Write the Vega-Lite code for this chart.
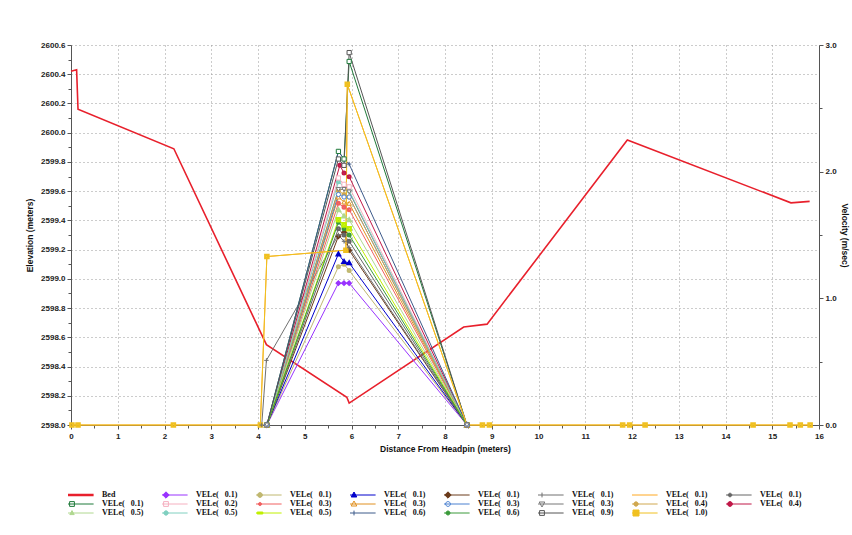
{
  "$schema": "https://vega.github.io/schema/vega-lite/v6.json",
  "width": 748,
  "height": 380,
  "autosize": {"type": "none"},
  "padding": {"left": 71, "top": 45, "right": 33, "bottom": 110},
  "background": "white",
  "config": {
    "view": {"stroke": null},
    "axis": {
      "labelFont": "Liberation Sans", "labelFontWeight": "bold", "labelFontSize": 8, "labelColor": "#222",
      "titleFont": "Liberation Sans", "titleFontWeight": "bold", "titleFontSize": 8.5, "titleColor": "#111",
      "domainColor": "#555", "tickColor": "#555", "gridColor": "#999999", "gridDash": [1, 3], "gridWidth": 1
    }
  },
  "params": [
    {"name": "lbl", "expr": "{'s01':'Bed','s02':'VELe(\u00a0\u00a0\u00a00.1)','s03':'VELe(\u00a0\u00a0\u00a00.1)','s04':'VELe(\u00a0\u00a0\u00a00.1)','s05':'VELe(\u00a0\u00a0\u00a00.1)','s06':'VELe(\u00a0\u00a0\u00a00.1)','s07':'VELe(\u00a0\u00a0\u00a00.1)','s08':'VELe(\u00a0\u00a0\u00a00.1)','s09':'VELe(\u00a0\u00a0\u00a00.1)','s10':'VELe(\u00a0\u00a0\u00a00.2)','s11':'VELe(\u00a0\u00a0\u00a00.3)','s12':'VELe(\u00a0\u00a0\u00a00.3)','s13':'VELe(\u00a0\u00a0\u00a00.3)','s14':'VELe(\u00a0\u00a0\u00a00.3)','s15':'VELe(\u00a0\u00a0\u00a00.4)','s16':'VELe(\u00a0\u00a0\u00a00.4)','s17':'VELe(\u00a0\u00a0\u00a00.5)','s18':'VELe(\u00a0\u00a0\u00a00.5)','s19':'VELe(\u00a0\u00a0\u00a00.5)','s20':'VELe(\u00a0\u00a0\u00a00.6)','s21':'VELe(\u00a0\u00a0\u00a00.6)','s22':'VELe(\u00a0\u00a0\u00a00.9)','s23':'VELe(\u00a0\u00a0\u00a01.0)'}"},
    {"name": "shp", "expr": "{'s01':'M-5.4,0H5.4','s02':'M-5.4,0H5.4M0,-0.8L0.8,0L0,0.8L-0.8,0Z','s03':'M-5.4,0H5.4M0.6,0A0.6,0.6,0,1,1,-0.6,0A0.6,0.6,0,1,1,0.6,0Z','s04':'M-5.4,0H5.4M0,-0.75L0.7,0.5H-0.7Z','s05':'M-5.4,0H5.4M0,-0.8L0.8,0L0,0.8L-0.8,0Z','s06':'M-5.4,0H5.4M0,-0.6V0.6','s07':'M-5.4,0H5.4','s08':'M-5.4,0H5.4M0.45,0A0.45,0.45,0,1,1,-0.45,0A0.45,0.45,0,1,1,0.45,0Z','s09':'M-5.4,0H5.4M-0.6,-0.6H0.6V0.6H-0.6Z','s10':'M-5.4,0H5.4M-0.6,-0.6H0.6V0.6H-0.6Z','s11':'M-5.4,0H5.4M0.4,0A0.4,0.4,0,1,1,-0.4,0A0.4,0.4,0,1,1,0.4,0Z','s12':'M-5.4,0H5.4M0,-0.75L0.7,0.5H-0.7Z','s13':'M-5.4,0H5.4M0.6,0A0.6,0.6,0,1,1,-0.6,0A0.6,0.6,0,1,1,0.6,0Z','s14':'M-5.4,0H5.4M0,0.75L0.7,-0.5H-0.7Z','s15':'M-5.4,0H5.4M0.55,0A0.55,0.55,0,1,1,-0.55,0A0.55,0.55,0,1,1,0.55,0Z','s16':'M-5.4,0H5.4M0.6,0A0.6,0.6,0,1,1,-0.6,0A0.6,0.6,0,1,1,0.6,0Z','s17':'M-5.4,0H5.4M0,-0.6L0.55,0.4H-0.55Z','s18':'M-5.4,0H5.4M0.55,0A0.55,0.55,0,1,1,-0.55,0A0.55,0.55,0,1,1,0.55,0Z','s19':'M-5.4,0H5.4M-0.7,-0.25H0.7V0.25H-0.7Z','s20':'M-5.4,0H5.4M0,-0.6V0.6','s21':'M-5.4,0H5.4M0.5,0A0.5,0.5,0,1,1,-0.5,0A0.5,0.5,0,1,1,0.5,0Z','s22':'M-5.4,0H5.4M-0.6,-0.6H0.6V0.6H-0.6Z','s23':'M-5.4,0H5.4M-0.75,-0.75H0.75V0.75H-0.75Z'}"},
    {"name": "fil", "expr": "{'s01':'white','s02':'#9933ff','s03':'#c0b870','s04':'#0000cc','s05':'#6b3a1a','s06':'white','s07':'white','s08':'#666666','s09':'white','s10':'white','s11':'#f06060','s12':'white','s13':'white','s14':'white','s15':'#d0a850','s16':'#c01848','s17':'#b0d890','s18':'#80d0c0','s19':'#c0f000','s20':'white','s21':'#3a9a3a','s22':'white','s23':'#f0c020'}"}
  ],
  "data": {
    "values": [
      {"s": "s01", "x": 0, "y": 2600.42}, {"s": "s01", "x": 0.12, "y": 2600.43}, {"s": "s01", "x": 0.15, "y": 2600.16},
      {"s": "s01", "x": 2.2, "y": 2599.89}, {"s": "s01", "x": 4.18, "y": 2598.55}, {"s": "s01", "x": 5.9, "y": 2598.19},
      {"s": "s01", "x": 5.95, "y": 2598.15}, {"s": "s01", "x": 8.4, "y": 2598.67}, {"s": "s01", "x": 8.9, "y": 2598.69},
      {"s": "s01", "x": 11.9, "y": 2599.95}, {"s": "s01", "x": 15.4, "y": 2599.52}, {"s": "s01", "x": 15.8, "y": 2599.53},

      {"s": "s02", "x": 4.19, "y": 0}, {"s": "s02", "x": 5.72, "y": 1.12}, {"s": "s02", "x": 5.84, "y": 1.12}, {"s": "s02", "x": 5.95, "y": 1.12}, {"s": "s02", "x": 8.47, "y": 0},
      {"s": "s03", "x": 4.19, "y": 0}, {"s": "s03", "x": 5.72, "y": 1.25}, {"s": "s03", "x": 5.84, "y": 1.27}, {"s": "s03", "x": 5.95, "y": 1.22}, {"s": "s03", "x": 8.47, "y": 0},
      {"s": "s04", "x": 4.19, "y": 0}, {"s": "s04", "x": 5.72, "y": 1.35}, {"s": "s04", "x": 5.84, "y": 1.29}, {"s": "s04", "x": 5.95, "y": 1.28}, {"s": "s04", "x": 8.47, "y": 0},
      {"s": "s05", "x": 4.19, "y": 0}, {"s": "s05", "x": 5.72, "y": 1.49}, {"s": "s05", "x": 5.84, "y": 1.52}, {"s": "s05", "x": 5.95, "y": 1.38}, {"s": "s05", "x": 8.47, "y": 0},
      {"s": "s06", "x": 4.08, "y": 0}, {"s": "s06", "x": 4.18, "y": 0.51}, {"s": "s06", "x": 5.72, "y": 1.5}, {"s": "s06", "x": 5.84, "y": 1.45}, {"s": "s06", "x": 5.95, "y": 1.4}, {"s": "s06", "x": 8.47, "y": 0},
      {"s": "s08", "x": 4.19, "y": 0}, {"s": "s08", "x": 5.72, "y": 1.55}, {"s": "s08", "x": 5.84, "y": 1.5}, {"s": "s08", "x": 5.95, "y": 1.45}, {"s": "s08", "x": 8.47, "y": 0},
      {"s": "s09", "x": 4.19, "y": 0}, {"s": "s09", "x": 5.72, "y": 2.16}, {"s": "s09", "x": 5.84, "y": 2.1}, {"s": "s09", "x": 5.95, "y": 2.87}, {"s": "s09", "x": 8.47, "y": 0},
      {"s": "s10", "x": 4.19, "y": 0}, {"s": "s10", "x": 5.72, "y": 1.95}, {"s": "s10", "x": 5.84, "y": 1.9}, {"s": "s10", "x": 5.95, "y": 1.88}, {"s": "s10", "x": 8.47, "y": 0},
      {"s": "s11", "x": 4.19, "y": 0}, {"s": "s11", "x": 5.72, "y": 1.75}, {"s": "s11", "x": 5.84, "y": 1.72}, {"s": "s11", "x": 5.95, "y": 1.7}, {"s": "s11", "x": 8.47, "y": 0},
      {"s": "s12", "x": 4.19, "y": 0}, {"s": "s12", "x": 5.72, "y": 1.8}, {"s": "s12", "x": 5.84, "y": 1.76}, {"s": "s12", "x": 5.95, "y": 1.75}, {"s": "s12", "x": 8.47, "y": 0},
      {"s": "s13", "x": 4.19, "y": 0}, {"s": "s13", "x": 5.72, "y": 1.82}, {"s": "s13", "x": 5.84, "y": 1.8}, {"s": "s13", "x": 5.95, "y": 1.8}, {"s": "s13", "x": 8.47, "y": 0},
      {"s": "s14", "x": 4.19, "y": 0}, {"s": "s14", "x": 5.72, "y": 1.86}, {"s": "s14", "x": 5.84, "y": 1.86}, {"s": "s14", "x": 5.95, "y": 1.84}, {"s": "s14", "x": 8.47, "y": 0},
      {"s": "s15", "x": 4.19, "y": 0}, {"s": "s15", "x": 5.72, "y": 1.85}, {"s": "s15", "x": 5.84, "y": 1.82}, {"s": "s15", "x": 5.95, "y": 1.8}, {"s": "s15", "x": 8.47, "y": 0},
      {"s": "s16", "x": 4.19, "y": 0}, {"s": "s16", "x": 5.75, "y": 2.05}, {"s": "s16", "x": 5.84, "y": 1.99}, {"s": "s16", "x": 5.95, "y": 1.96}, {"s": "s16", "x": 8.47, "y": 0},
      {"s": "s17", "x": 4.19, "y": 0}, {"s": "s17", "x": 5.72, "y": 1.7}, {"s": "s17", "x": 5.84, "y": 1.65}, {"s": "s17", "x": 5.95, "y": 1.62}, {"s": "s17", "x": 8.47, "y": 0},
      {"s": "s18", "x": 4.19, "y": 0}, {"s": "s18", "x": 5.72, "y": 1.92}, {"s": "s18", "x": 5.84, "y": 1.88}, {"s": "s18", "x": 5.95, "y": 1.85}, {"s": "s18", "x": 8.47, "y": 0},
      {"s": "s19", "x": 4.19, "y": 0}, {"s": "s19", "x": 5.72, "y": 1.62}, {"s": "s19", "x": 5.84, "y": 1.58}, {"s": "s19", "x": 5.95, "y": 1.55}, {"s": "s19", "x": 8.47, "y": 0},
      {"s": "s20", "x": 4.19, "y": 0}, {"s": "s20", "x": 5.72, "y": 2.16}, {"s": "s20", "x": 5.84, "y": 2.1}, {"s": "s20", "x": 5.95, "y": 2.06}, {"s": "s20", "x": 8.47, "y": 0},
      {"s": "s21", "x": 4.19, "y": 0}, {"s": "s21", "x": 5.72, "y": 1.6}, {"s": "s21", "x": 5.84, "y": 1.55}, {"s": "s21", "x": 5.95, "y": 1.5}, {"s": "s21", "x": 8.47, "y": 0},
      {"s": "s22", "x": 4.19, "y": 0}, {"s": "s22", "x": 5.72, "y": 2.1}, {"s": "s22", "x": 5.84, "y": 2.05}, {"s": "s22", "x": 5.95, "y": 2.94}, {"s": "s22", "x": 8.47, "y": 0},

      {"s": "s07", "x": 0.02, "y": 0}, {"s": "s07", "x": 0.15, "y": 0}, {"s": "s07", "x": 2.19, "y": 0}, {"s": "s07", "x": 4.05, "y": 0},
      {"s": "s07", "x": 4.19, "y": 1.33}, {"s": "s07", "x": 5.88, "y": 1.38}, {"s": "s07", "x": 5.91, "y": 2.69}, {"s": "s07", "x": 8.47, "y": 0},
      {"s": "s07", "x": 8.8, "y": 0}, {"s": "s07", "x": 8.95, "y": 0}, {"s": "s07", "x": 11.8, "y": 0}, {"s": "s07", "x": 11.95, "y": 0},
      {"s": "s07", "x": 12.28, "y": 0}, {"s": "s07", "x": 14.59, "y": 0}, {"s": "s07", "x": 15.38, "y": 0}, {"s": "s07", "x": 15.6, "y": 0}, {"s": "s07", "x": 15.81, "y": 0},

      {"s": "s23", "x": 0.02, "y": 0}, {"s": "s23", "x": 0.15, "y": 0}, {"s": "s23", "x": 2.19, "y": 0}, {"s": "s23", "x": 4.05, "y": 0},
      {"s": "s23", "x": 4.19, "y": 1.33}, {"s": "s23", "x": 5.88, "y": 1.38}, {"s": "s23", "x": 5.91, "y": 2.69}, {"s": "s23", "x": 8.47, "y": 0},
      {"s": "s23", "x": 8.8, "y": 0}, {"s": "s23", "x": 8.95, "y": 0}, {"s": "s23", "x": 11.8, "y": 0}, {"s": "s23", "x": 11.95, "y": 0},
      {"s": "s23", "x": 12.28, "y": 0}, {"s": "s23", "x": 14.59, "y": 0}, {"s": "s23", "x": 15.38, "y": 0}, {"s": "s23", "x": 15.6, "y": 0}, {"s": "s23", "x": 15.81, "y": 0}
    ]
  },
  "encoding": {
    "x": {
      "field": "x", "type": "quantitative",
      "scale": {"domain": [0, 16], "nice": false, "zero": false},
      "axis": {
        "title": "Distance From Headpin (meters)",
        "values": [0, 0.5, 1, 1.5, 2, 2.5, 3, 3.5, 4, 4.5, 5, 5.5, 6, 6.5, 7, 7.5, 8, 8.5, 9, 9.5, 10, 10.5, 11, 11.5, 12, 12.5, 13, 13.5, 14, 14.5, 15, 15.5, 16],
        "labelExpr": "datum.value % 1 === 0 ? format(datum.value, 'd') : ''",
        "tickSize": {"condition": {"test": "datum.value % 1 !== 0", "value": 3}, "value": 4},
        "gridOpacity": {"condition": {"test": "datum.value % 1 !== 0", "value": 0}, "value": 1},
        "labelPadding": 3, "titlePadding": 4, "labelFlush": false
      }
    }
  },
  "layer": [
    {
      "transform": [{"filter": "datum.s === 's01'"}],
      "mark": {"type": "line", "strokeWidth": 1.6},
      "encoding": {
        "y": {
          "field": "y", "type": "quantitative",
          "scale": {"domain": [2598, 2600.6], "nice": false, "zero": false},
          "axis": {
            "title": "Elevation (meters)",
            "values": [2598, 2598.1, 2598.2, 2598.3, 2598.4, 2598.5, 2598.6, 2598.7, 2598.8, 2598.9, 2599, 2599.1, 2599.2, 2599.3, 2599.4, 2599.5, 2599.6, 2599.7, 2599.8, 2599.9, 2600, 2600.1, 2600.2, 2600.3, 2600.4, 2600.5, 2600.6],
            "labelExpr": "round(datum.value * 10) % 2 === 0 ? format(datum.value, '.1f') : ''",
            "tickSize": {"condition": {"test": "round(datum.value * 10) % 2 === 1", "value": 3}, "value": 4},
            "gridOpacity": {"condition": {"test": "round(datum.value * 10) % 2 === 1", "value": 0}, "value": 1},
            "labelPadding": 2, "titlePadding": 6
          }
        },
        "color": {
          "field": "s", "type": "nominal",
          "scale": {
            "domain": ["s01", "s02", "s03", "s04", "s05", "s06", "s07", "s08", "s09", "s10", "s11", "s12", "s13", "s14", "s15", "s16", "s17", "s18", "s19", "s20", "s21", "s22", "s23"],
            "range": ["#e8202c", "#9933ff", "#c0b870", "#0000cc", "#6b3a1a", "#707070", "#ffa820", "#666666", "#1f7a3a", "#f5b0c0", "#f06060", "#e09020", "#4a80d0", "#777777", "#d0a850", "#c01848", "#b0d890", "#80d0c0", "#c0f000", "#3d5a8a", "#3a9a3a", "#555555", "#f0c020"]
          },
          "legend": {
            "orient": "none", "legendX": -3, "legendY": 446,
            "columns": 8, "direction": "horizontal", "title": null,
            "symbolSize": 64, "symbolStrokeWidth": 1, "symbolOpacity": 1,
            "labelOffset": 26, "labelFont": "Liberation Serif", "labelFontWeight": "bold", "labelFontSize": 8, "labelColor": "#111",
            "rowPadding": 1, "columnPadding": 18, "labelLimit": 80, "clipHeight": 8,
            "labelExpr": "lbl[datum.label]",
            "encode": {
              "symbols": {
                "update": {
                  "shape": {"signal": "shp[datum.value]"},
                  "fill": {"signal": "fil[datum.value]"},
                  "strokeWidth": {"signal": "datum.value === 's01' ? 2.5 : 1"}
                }
              }
            }
          }
        }
      }
    },
    {
      "transform": [{"filter": "datum.s !== 's01'"}],
      "encoding": {
        "y": {
          "field": "y", "type": "quantitative",
          "scale": {"domain": [0, 3], "nice": false, "zero": false},
          "axis": {
            "orient": "right", "title": "Velocity (m/sec)", "titleAngle": 90,
            "values": [0, 0.5, 1, 1.5, 2, 2.5, 3],
            "labelExpr": "datum.value % 1 === 0 ? format(datum.value, '.1f') : ''",
            "tickSize": {"condition": {"test": "datum.value % 1 !== 0", "value": 3}, "value": 4},
            "grid": false, "labelPadding": 2, "titlePadding": 3
          }
        },
        "color": {"field": "s", "type": "nominal"}
      },
      "layer": [
        {"mark": {"type": "line", "strokeWidth": 1}},
        {"transform": [{"filter": {"field": "s", "oneOf": ["s02", "s05"]}}], "mark": {"type": "point", "shape": "diamond", "filled": false, "size": 10, "strokeWidth": 2.2, "opacity": 1}},
        {"transform": [{"filter": {"field": "s", "oneOf": ["s03", "s08", "s11", "s15", "s16", "s18", "s21"]}}], "mark": {"type": "point", "shape": "circle", "filled": false, "size": 8, "strokeWidth": 2.2, "opacity": 1}},
        {"transform": [{"filter": {"field": "s", "oneOf": ["s04", "s17"]}}], "mark": {"type": "point", "shape": "triangle-up", "filled": false, "size": 10, "strokeWidth": 2.2, "opacity": 1}},
        {"transform": [{"filter": {"field": "s", "oneOf": ["s19", "s23"]}}], "mark": {"type": "point", "shape": "square", "filled": false, "size": 10, "strokeWidth": 2.4, "opacity": 1}},
        {"transform": [{"filter": {"field": "s", "oneOf": ["s06", "s20"]}}], "mark": {"type": "point", "shape": "M-1,0H1M0,-1V1", "filled": false, "size": 20, "strokeWidth": 1, "opacity": 1}},
        {"transform": [{"filter": {"field": "s", "oneOf": ["s09", "s10", "s22"]}}], "mark": {"type": "point", "shape": "square", "filled": false, "fill": "white", "size": 18, "strokeWidth": 1, "opacity": 1}},
        {"transform": [{"filter": {"field": "s", "oneOf": ["s12"]}}], "mark": {"type": "point", "shape": "triangle-up", "filled": false, "fill": "white", "size": 20, "strokeWidth": 1, "opacity": 1}},
        {"transform": [{"filter": {"field": "s", "oneOf": ["s13"]}}], "mark": {"type": "point", "shape": "circle", "filled": false, "fill": "white", "size": 18, "strokeWidth": 1, "opacity": 1}},
        {"transform": [{"filter": {"field": "s", "oneOf": ["s14"]}}], "mark": {"type": "point", "shape": "triangle-down", "filled": false, "fill": "white", "size": 20, "strokeWidth": 1, "opacity": 1}}
      ]
    }
  ],
  "resolve": {"scale": {"y": "independent"}}
}
